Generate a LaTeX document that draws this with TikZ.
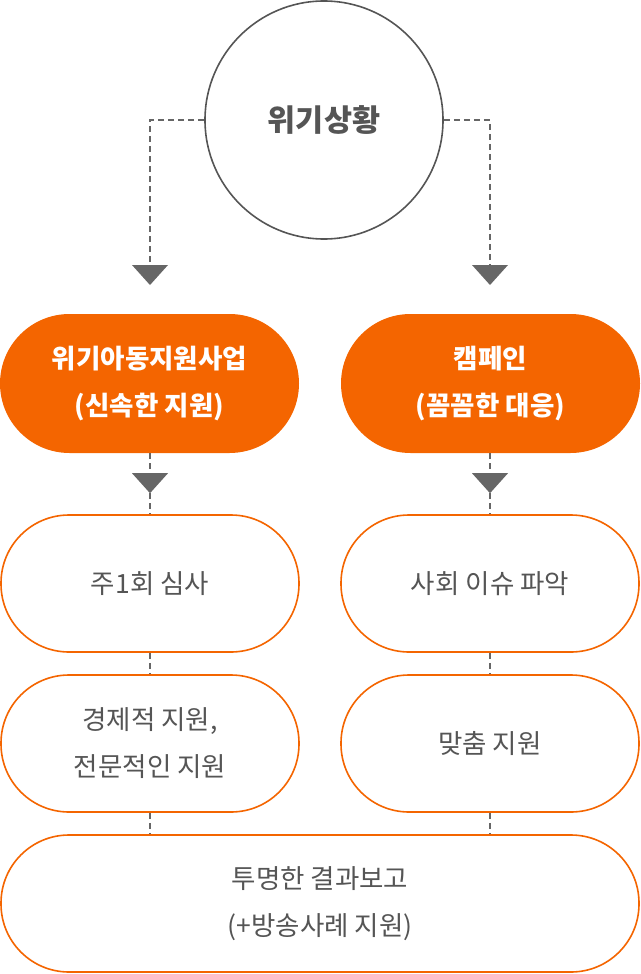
\documentclass[tikz,border=0pt]{standalone}
\usepackage{fontspec}
\setmainfont{Noto Sans CJK KR}
\usetikzlibrary{calc}
\definecolor{org}{HTML}{F46500}
\definecolor{txt}{HTML}{555555}
\definecolor{dsh}{HTML}{666666}
\tikzset{
  pill/.style={rectangle, rounded corners=68pt, minimum width=298pt, minimum height=137pt, draw=org, line width=1.6pt, fill=white, text=txt, align=center, font=\fontsize{26.5}{47}\selectfont, inner sep=0pt},
  opill/.style={rectangle, rounded corners=69.5pt, minimum width=299pt, minimum height=139pt, fill=org, text=white, align=center, font=\fontsize{26.5}{47}\selectfont\bfseries, inner sep=0pt},
  conn/.style={draw=dsh, line width=1.6pt, dash pattern=on 6pt off 4pt},
  tri/.style={fill=dsh}
}
\begin{document}
\begin{tikzpicture}[x=1pt,y=-1pt]
\useasboundingbox (0,0) rectangle (640,974);
\node[circle, draw=txt, line width=1.6pt, minimum size=238pt, inner sep=0pt, text=txt, font=\fontsize{30.5}{34}\selectfont\bfseries] (circ) at (324,120) {위기상황};
\node[opill] (oL) at (149.5,383.5) {위기아동지원사업\\(신속한 지원)};
\node[opill] (oR) at (490.5,383.5) {캠페인\\(꼼꼼한 대응)};
\node[pill] (a1) at (150,583.5) {주1회 심사};
\node[pill] (b1) at (490,583.5) {사회 이슈 파악};
\node[pill] (a2) at (150,743.5) {경제적 지원,\\전문적인 지원};
\node[pill] (b2) at (490,743.5) {맞춤 지원};
\node[pill, minimum width=638pt] (c) at (320,903.5) {투명한 결과보고\\(+방송사례 지원)};
\coordinate (tL) at (150,285);
\coordinate (tR) at (490,285);
\draw[conn] (circ.west) -| ($(tL)+(0,-10)$);
\draw[conn] (circ.east) -| ($(tR)+(0,-10)$);
\fill[tri] ($(tL)+(-18,-20)$) -- ++(36,0) -- (tL) -- cycle;
\fill[tri] ($(tR)+(-18,-20)$) -- ++(36,0) -- (tR) -- cycle;
\draw[conn] ([xshift=0.5pt]oL.south) -- (a1.north);
\draw[conn] ([xshift=-0.5pt]oR.south) -- (b1.north);
\fill[tri] ($(a1.north)+(-18,-41)$) -- ++(36,0) -- ($(a1.north)+(0,-21)$) -- cycle;
\fill[tri] ($(b1.north)+(-18,-41)$) -- ++(36,0) -- ($(b1.north)+(0,-21)$) -- cycle;
\draw[conn] (a1.south) -- (a2.north);
\draw[conn] (b1.south) -- (b2.north);
\draw[conn] (a2.south) -- (a2.south |- c.north);
\draw[conn] (b2.south) -- (b2.south |- c.north);
\end{tikzpicture}
\end{document}
